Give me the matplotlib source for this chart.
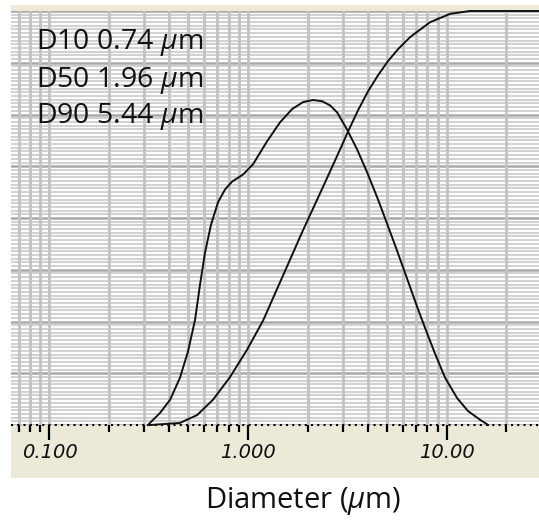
import numpy as np
import matplotlib
matplotlib.use("Agg")
import matplotlib.pyplot as plt
from matplotlib.patches import Rectangle
from matplotlib.ticker import LogLocator, NullFormatter, FixedLocator

# ============================================================================
# DATA
# ============================================================================

# frequency curve (scaled to the same 0-100 axis)
freq_d = [0.313, 0.360, 0.405, 0.454, 0.498, 0.541, 0.573, 0.607, 0.651,
          0.706, 0.766, 0.831, 0.944, 1.060, 1.246, 1.449, 1.666, 1.893,
          2.126, 2.36, 2.59, 2.81, 3.15, 3.54, 3.98, 4.47, 5.01, 5.63,
          6.32, 7.10, 7.88, 8.75, 9.83, 11.3, 12.8, 14.8, 16.2]
freq_val = [0.0, 2.9, 6.1, 11.4, 17.7, 25.4, 33.9, 41.6, 48.4,
            53.8, 56.9, 58.8, 60.5, 63.0, 68.5, 73.1, 76.3, 78.0,
            78.5, 78.2, 77.2, 75.5, 71.4, 66.6, 61.0, 55.0, 48.7, 42.1,
            35.4, 28.6, 22.8, 17.2, 11.4, 6.5, 3.4, 1.2, 0.0]

# cumulative curve (%)
cum_d = [0.321, 0.454, 0.554, 0.666, 0.812, 0.989, 1.19, 1.50, 1.89,
         2.39, 2.91, 3.19, 3.58, 4.02, 4.52, 5.07, 5.70, 6.55, 8.26,
         10.4, 13.1, 16.6, 29.2]
cum_val = [0.0, 0.5, 2.4, 6.1, 11.6, 18.2, 25.2, 36.1, 47.0,
           57.6, 66.6, 70.9, 76.0, 80.6, 84.5, 87.9, 90.8, 93.7, 97.3,
           99.3, 100.0, 100.0, 100.0]

x_ticks = [0.1, 1.0, 10.0]
x_tick_labels = ["0.100", "1.000", "10.00"]
x_range = [0.064, 29.2]

stats = [("D10", "0.74"), ("D50", "1.96"), ("D90", "5.44")]

# ============================================================================
# STYLE
# ============================================================================

plt.rcParams['font.family'] = ['Open Sans', 'DejaVu Sans']
plt.rcParams['mathtext.fontset'] = 'custom'
plt.rcParams['mathtext.rm'] = 'Open Sans'
plt.rcParams['mathtext.it'] = 'Open Sans:italic'

BEIGE = '#ECE9D8'

fig = plt.figure(figsize=(5.39, 5.22), dpi=100)
W, H = 539, 522

# beige panel behind the plot
fig.add_artist(Rectangle((11 / W, 1 - 478 / H), 528 / W, 473 / H,
                         transform=fig.transFigure, facecolor=BEIGE,
                         edgecolor='none', zorder=-1))

ax = fig.add_axes([11 / W, 1 - 425 / H, 528 / W, 414 / H])
ax.set_facecolor('white')
ax.set_xscale('log')
ax.set_xlim(*x_range)
ax.set_ylim(0, 100)

# grid: dense horizontal stripes, log vertical lines
ax.set_yticks(np.arange(0, 100.01, 12.5))
ax.yaxis.set_minor_locator(FixedLocator(np.arange(0, 100.01, 12.5 / 14)))
ax.tick_params(axis='y', which='both', length=0, labelleft=False)
ax.grid(axis='y', which='minor', color='#d2d2d2', linewidth=1.5)
ax.grid(axis='y', which='major', color='#a9a9a9', linewidth=1.8)

ax.set_xticks(x_ticks, x_tick_labels)
ax.xaxis.set_minor_locator(LogLocator(base=10, subs=np.arange(2, 10)))
ax.xaxis.set_minor_formatter(NullFormatter())
ax.grid(axis='x', which='both', color='#c2c2c2', linewidth=2.0)
ax.tick_params(axis='x', which='major', direction='out', length=11,
               width=1.6, color='black', pad=2, labelsize=14)
ax.tick_params(axis='x', which='minor', direction='out', length=5,
               width=1.6, color='black')
for lab in ax.get_xticklabels():
    lab.set_fontfamily('DejaVu Sans')
    lab.set_fontstyle('italic')
    lab.set_color('#111111')

ax.yaxis.set_zorder(0.4)
ax.xaxis.set_zorder(0.6)

for s in ax.spines.values():
    s.set_visible(False)

# dotted base line
ax.plot(x_range, [0, 0], color='black', linestyle=(0, (1, 2)),
        linewidth=1.5, clip_on=False, zorder=3)

# curves
ax.plot(freq_d, freq_val, color='#111111', linewidth=1.4,
        clip_on=False, zorder=4)
ax.plot(cum_d, cum_val, color='#111111', linewidth=1.4,
        clip_on=False, zorder=4)

# percentile text
for i, (name, val) in enumerate(stats):
    ax.text(25 / 528, (425 - (43 + 37 * i)) / 414, f"{name} {val} $\\mu$m",
            transform=ax.transAxes, ha='left', va='center', fontsize=20.5,
            color='#111111', zorder=5)

fig.text(303 / W, 1 - 501 / H, "Diameter ($\\mu$m)", ha='center',
         va='center', fontsize=21, color='#111111')

fig.savefig('out.png', dpi=100)
